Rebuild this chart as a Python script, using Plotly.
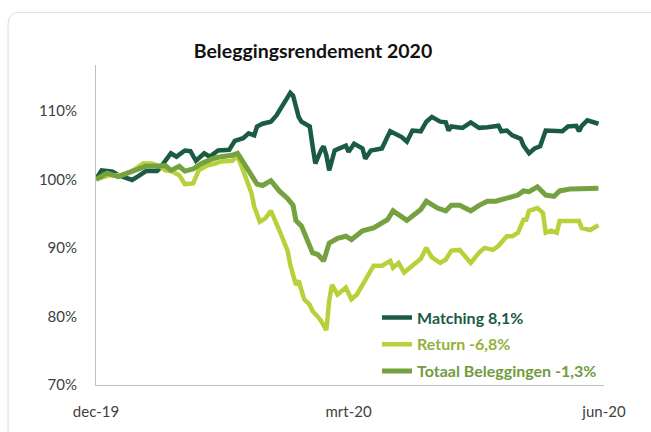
import pandas as pd
import plotly.graph_objects as go

# ---- data (days since 1 Dec 2019, index value in %) ----
matching_days = [0, 2, 4, 6, 8, 13, 15, 18, 22, 23, 27, 29, 32, 34, 36, 39, 41, 44, 48, 50,
                 53, 55, 57, 58, 60, 63, 65, 67, 69, 70, 71, 72, 73, 74, 77, 78, 79, 81, 82, 83,
                 84, 86, 88, 90, 91, 93, 96, 97, 99, 103, 105, 106, 109, 110, 112, 114, 117, 119, 121, 124,
                 126, 127, 128, 132, 135, 138, 141, 145, 146, 148, 150, 153, 154, 156, 158, 160, 162, 165, 168, 170,
                 173, 174, 175, 177, 179, 181]
matching_vals = [100.0, 101.3, 101.2, 101.1, 100.6, 99.9, 100.4, 101.2, 101.2, 101.6, 103.8, 103.3, 104.2, 104.1, 102.7, 103.8, 103.3, 104.2, 104.3, 105.6,
                 106.0, 106.7, 106.4, 107.7, 108.1, 108.4, 109.3, 110.7, 112.0, 112.6, 112.2, 110.7, 109.1, 108.4, 107.7, 104.9, 102.3, 104.2, 104.8, 103.5,
                 101.3, 104.2, 104.5, 104.9, 104.0, 105.2, 104.5, 103.0, 104.2, 104.5, 106.2, 107.0, 106.4, 106.2, 105.5, 107.1, 107.0, 108.4, 109.1, 108.4,
                 108.3, 107.1, 107.7, 107.5, 108.3, 107.5, 107.6, 107.8, 107.0, 107.1, 106.4, 105.9, 104.9, 103.8, 104.5, 104.8, 107.1, 107.0, 107.0, 107.7,
                 107.8, 107.0, 107.8, 108.6, 108.4, 108.1]

return_days = [0, 5, 9, 13, 17, 20, 23, 25, 27, 30, 32, 35, 37, 40, 43, 45, 49, 51, 53, 56,
               57, 59, 61, 63, 66, 69, 70, 72, 73, 75, 77, 78, 80, 81, 83, 84, 85, 87, 90, 92,
               94, 97, 100, 103, 106, 107, 109, 111, 114, 117, 119, 121, 124, 126, 128, 131, 135, 138, 140, 143,
               145, 148, 150, 152, 154, 155, 156, 159, 161, 162, 164, 166, 167, 171, 174, 175, 178, 181]
return_vals = [100.0, 100.6, 100.6, 101.2, 102.3, 102.3, 101.9, 101.3, 101.2, 100.6, 99.3, 99.4, 101.3, 102.0, 102.3, 102.6, 102.7, 103.4, 101.3, 98.0,
               96.0, 93.8, 94.3, 95.4, 92.6, 89.6, 87.5, 84.6, 85.2, 82.5, 81.7, 80.8, 79.9, 79.4, 78.0, 82.3, 84.6, 83.2, 84.2, 82.5,
               83.2, 85.4, 87.4, 87.4, 88.1, 87.1, 87.8, 86.4, 87.5, 88.4, 90.0, 88.6, 87.8, 88.3, 89.6, 89.7, 87.8, 89.3, 90.0, 89.7,
               90.3, 91.7, 91.7, 92.2, 94.1, 94.1, 95.4, 95.8, 95.1, 92.2, 92.5, 92.2, 93.9, 93.9, 93.9, 92.9, 92.6, 93.3]

totaal_days = [0, 4, 8, 13, 18, 22, 25, 27, 30, 32, 35, 38, 42, 45, 49, 51, 54, 58, 60, 63,
               66, 69, 71, 72, 74, 76, 78, 80, 82, 84, 87, 90, 92, 96, 100, 105, 107, 112, 115, 117,
               119, 123, 126, 128, 131, 135, 138, 141, 144, 148, 152, 154, 156, 159, 162, 165, 167, 171, 175, 181]
totaal_vals = [100.0, 100.9, 100.4, 101.2, 101.9, 101.9, 102.0, 101.3, 101.9, 101.2, 101.5, 102.3, 103.0, 103.3, 103.5, 103.8, 102.0, 99.3, 99.1, 99.8,
               98.3, 97.2, 96.2, 94.0, 93.2, 91.4, 89.3, 89.0, 88.1, 90.7, 91.4, 91.7, 91.2, 92.5, 92.9, 94.1, 95.4, 94.0, 95.1, 95.6,
               96.8, 95.8, 95.4, 96.2, 96.2, 95.4, 96.2, 96.8, 96.8, 97.2, 97.7, 98.3, 98.2, 98.9, 97.7, 97.5, 98.3, 98.6, 98.6, 98.7]

series_names = ["Matching 8,1%", "Return -6,8%", "Totaal Beleggingen -1,3%"]
y_tick_vals = [70, 80, 90, 100, 110]
y_tick_text = ["70%", "80%", "90%", "100%", "110%"]
x_tick_vals = ["2019-12-01", "2020-03-01", "2020-06-01"]
x_tick_text = ["dec-19", "mrt-20", "jun-20"]
title_text = "Beleggingsrendement 2020"

base = pd.Timestamp("2019-12-01")
def to_dates(days):
    return base + pd.to_timedelta(days, unit="D")

FONT = "Lato"
c_match, c_ret, c_tot = "#1b5b44", "#b7d13a", "#76a141"
t_match, t_ret, t_tot = "#1b5b44", "#93b13a", "#6f9b3e"

fig = go.Figure()
fig.add_trace(go.Scatter(x=to_dates(matching_days), y=matching_vals, mode="lines",
                         line=dict(color=c_match, width=4.5), legendgroup="a",
                         name=f"<span style='color:{t_match}'><b>{series_names[0]}</b></span>"))
fig.add_trace(go.Scatter(x=to_dates(return_days), y=return_vals, mode="lines",
                         line=dict(color=c_ret, width=4.5), legendgroup="b",
                         name=f"<span style='color:{t_ret}'><b>{series_names[1]}</b></span>"))
fig.add_trace(go.Scatter(x=to_dates(totaal_days), y=totaal_vals, mode="lines",
                         line=dict(color=c_tot, width=5), legendgroup="c",
                         name=f"<span style='color:{t_tot}'><b>{series_names[2]}</b></span>"))

L, R, T, B = 96, 47, 65, 45
W, H = 651, 432
pw, ph = W - L - R, H - T - B
def px(x):
    return (x - L) / pw
def py(y):
    return (H - B - y) / ph

# card border (rounded corner, light gray)
x0, y0 = px(8), py(12)
xr, yb = px(700), py(480)
rx, ry = 12 / pw, 12 / ph
card_path = (f"M {x0},{yb} L {x0},{y0 - ry} Q {x0},{y0} {x0 + rx},{y0} L {xr},{y0}")

fig.update_layout(
    width=W, height=H,
    margin=dict(l=L, r=R, t=T, b=B),
    paper_bgcolor="white", plot_bgcolor="white",
    font=dict(family=FONT, size=14, color="#595959"),
    title=dict(text=f"<b>{title_text}</b>", font=dict(family=FONT, size=19.5, color="#111111"),
               xref="paper", x=px(313), xanchor="center",
               yref="container", y=1 - 51 / H, yanchor="middle"),
    showlegend=True,
    legend=dict(x=px(377), xanchor="left", y=py(302), yanchor="top",
                bgcolor="rgba(0,0,0,0)", font=dict(family=FONT, size=16),
                tracegroupgap=3, itemwidth=30),
    shapes=[dict(type="path", path=card_path, xref="paper", yref="paper",
                 line=dict(color="#dcdcdc", width=1), layer="below")],
)
fig.update_xaxes(range=["2019-12-01", "2020-06-01"], tickvals=x_tick_vals, ticktext=x_tick_text,
                 showline=True, linecolor="#bfbfbf", linewidth=1, showgrid=False, zeroline=False,
                 ticks="", ticklabelstandoff=13, tickfont=dict(size=15, color="#404040"))
fig.update_yaxes(range=[70, 70 + ph / 6.9], tickvals=y_tick_vals, ticktext=y_tick_text,
                 showline=True, linecolor="#bfbfbf", linewidth=1, showgrid=False, zeroline=False,
                 ticks="", ticklabelstandoff=15, tickfont=dict(size=15, color="#404040"))

fig.write_html("out.html")
